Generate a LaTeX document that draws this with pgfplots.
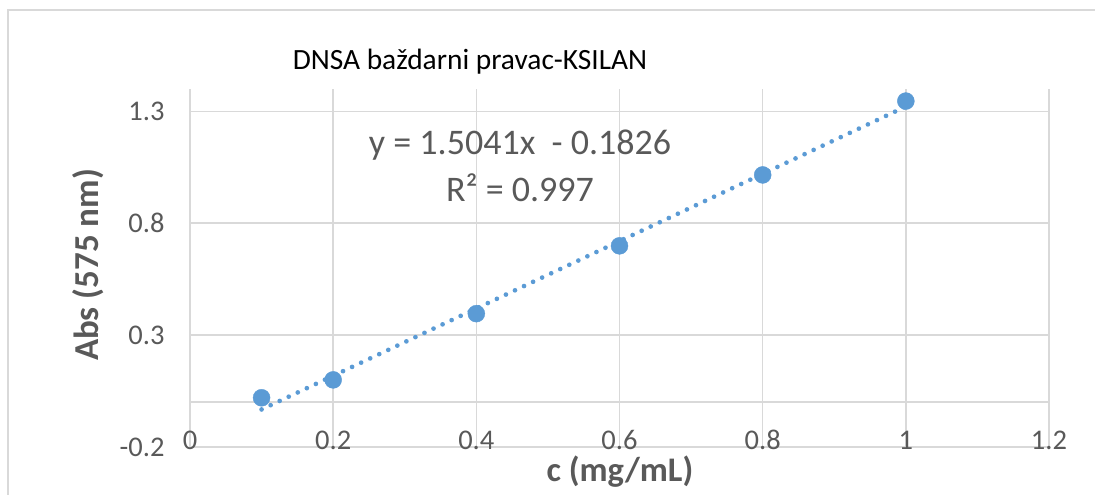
\documentclass[border=0pt]{standalone}
\usepackage{pgfplots}
\pgfplotsset{compat=1.18}
\usepackage{fontspec}
\setmainfont{Carlito}
\definecolor{gridgray}{RGB}{217,217,217}
\definecolor{txtgray}{RGB}{89,89,89}
\definecolor{xlblue}{RGB}{91,155,213}
\begin{document}
\begin{tikzpicture}
\useasboundingbox (-190bp,-48bp) rectangle (905bp,447bp);
\draw[gridgray, line width=2bp] (-182bp,-60bp) -- (-182bp,437bp) -- (920bp,437bp);
\begin{axis}[
  scale only axis,
  width=859bp, height=358bp,
  xmin=0, xmax=1.2, ymin=-0.2, ymax=1.4,
  xtick={0,0.2,0.4,0.6,0.8,1,1.2},
  xticklabels={0,0.2,0.4,0.6,0.8,1,1.2},
  ytick={-0.2,0.3,0.8,1.3},
  yticklabels={-0.2,0.3,0.8,1.3},
  extra y ticks={0},
  extra y tick labels={},
  extra y tick style={grid=major, major tick length=0pt},
  grid=major,
  major grid style={gridgray, line width=1.5bp},
  axis line style={draw=none},
  major tick length=0pt,
  tick label style={font=\fontsize{28.5bp}{30bp}\selectfont, text=txtgray},
  xticklabel style={anchor=base, yshift=-2bp},
  yticklabel style={anchor=east, xshift=-22bp},
  clip=false,
]
\addplot[xlblue, line width=4.7bp, line cap=round, dash pattern=on 0bp off 10bp, forget plot]
  coordinates {(0.1,-0.03219) (1.0,1.3215)};
\addplot[only marks, mark=*, mark size=8.5bp, mark options={draw=xlblue, fill=xlblue}]
  coordinates {(0.1,0.020) (0.2,0.100) (0.4,0.396) (0.6,0.699) (0.8,1.016) (1.0,1.346)};
\end{axis}
\node[text=black, font=\fontsize{29.4bp}{32bp}\selectfont] at (280bp,385bp) {DNSA baždarni pravac-KSILAN};
\node[text=txtgray, font=\fontsize{36bp}{38bp}\selectfont] at (330bp,302bp) {y = 1.5041x\ \ - 0.1826};
\node[text=txtgray, font=\fontsize{36bp}{38bp}\selectfont] at (330bp,259bp) {R² = 0.997};
\node[text=txtgray, font=\bfseries\fontsize{35bp}{37bp}\selectfont, rotate=90] at (-102bp,182bp) {Abs (575 nm)};
\node[text=txtgray, font=\bfseries\fontsize{34.5bp}{37bp}\selectfont, inner sep=0pt] at (430bp,-25bp) {c (mg/mL)};
\end{tikzpicture}
\end{document}
